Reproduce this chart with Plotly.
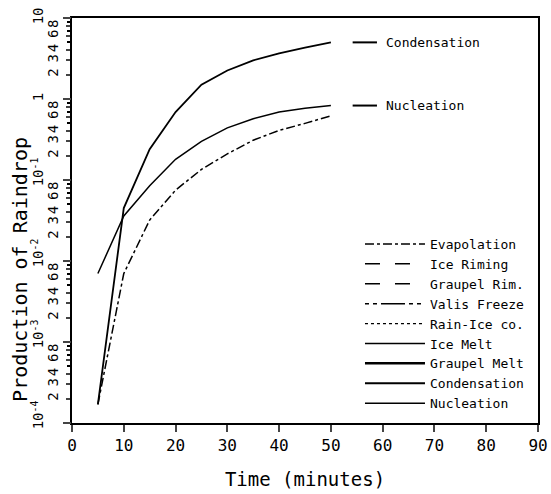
import math
import plotly.graph_objects as go

# ---- data ----
time = [5, 10, 15, 20, 25, 30, 35, 40, 45, 50]
condensation = [1.7e-4, 0.045, 0.24, 0.69, 1.5, 2.25, 3.0, 3.65, 4.3, 5.0]
nucleation = [0.007, 0.036, 0.085, 0.18, 0.30, 0.44, 0.57, 0.69, 0.77, 0.83]
evapolation = [1.7e-4, 0.007, 0.032, 0.075, 0.135, 0.21, 0.31, 0.41, 0.50, 0.62]

series_names = ["Evapolation", "Ice Riming", "Graupel Rim.", "Valis Freeze",
                "Rain-Ice co.", "Ice Melt", "Graupel Melt", "Condensation", "Nucleation"]

decade_vals = [1e-4, 1e-3, 1e-2, 1e-1, 1, 10]
decade_text = ["10<sup>-4</sup>", "10<sup>-3</sup>", "10<sup>-2</sup>", "10<sup>-1</sup>", "1", "10"]
minor_digits = [2, 3, 4, 6, 8]
x_ticks = [0, 10, 20, 30, 40, 50, 60, 70, 80, 90]

FONT = "DejaVu Sans Mono"

series = {
    "Evapolation": (evapolation, dict(dash="dashdot", width=1.5)),
    "Ice Riming": (None, dict(dash="longdash", width=1.5)),
    "Graupel Rim.": (None, dict(dash="longdash", width=1.5)),
    "Valis Freeze": (None, dict(dash="4px,4px,4px,4px,24px,4px", width=1.5)),
    "Rain-Ice co.": (None, dict(dash="dot", width=1.2)),
    "Ice Melt": (None, dict(dash="solid", width=1.5)),
    "Graupel Melt": (None, dict(dash="solid", width=2.5)),
    "Condensation": (condensation, dict(dash="solid", width=1.8)),
    "Nucleation": (nucleation, dict(dash="solid", width=1.5)),
}

fig = go.Figure()
for name in series_names:
    vals, ls = series[name]
    fig.add_trace(go.Scatter(
        x=time if vals is not None else [None],
        y=vals if vals is not None else [None],
        mode="lines", name=name,
        line=dict(color="black", **ls),
        yaxis="y2" if name == "Ice Riming" else "y",
    ))

# minor-digit labels (close to axis)
minor_vals, minor_text = [], []
for e in range(-4, 1):
    for d in minor_digits:
        minor_vals.append(d * 10 ** e)
        minor_text.append(str(d))

# decade labels: pad so the "10" base sits on the tick, exponent above it
decade_labels = []
for t in decade_text:
    if "<sup>" in t:
        decade_labels.append("<sup>&nbsp;&nbsp;</sup>" + t)
    else:
        decade_labels.append(t)

axis_common = dict(type="log", range=[-4, 1], tickangle=-90, automargin=False,
                   tickfont=dict(family=FONT, size=14, color="black"),
                   showgrid=False, zeroline=False)

fig.update_layout(
    width=551, height=494,
    margin=dict(l=72, r=13, t=18, b=71),
    paper_bgcolor="white", plot_bgcolor="white",
    showlegend=True,
    legend=dict(x=0.618, y=0.479, xanchor="left", yanchor="top",
                font=dict(family=FONT, size=13, color="black"),
                bgcolor="rgba(0,0,0,0)", itemwidth=60, tracegroupgap=0),
    xaxis=dict(range=[0, 90], tickvals=x_ticks, ticks="outside", ticklen=7, tickwidth=2,
               showline=True, linewidth=2, linecolor="black", mirror=True,
               showgrid=False, zeroline=False, automargin=False,
               tickfont=dict(family=FONT, size=16, color="black"),
               title=dict(text="Time (minutes)", font=dict(family=FONT, size=19, color="black"),
                          standoff=18)),
    yaxis=dict(**axis_common, tickvals=minor_vals, ticktext=minor_text,
               ticks="outside", ticklen=4, tickwidth=1.5,
               showline=True, linewidth=2, linecolor="black", mirror=True,
               minor=dict(ticks="outside", ticklen=3, dtick="D1", tickcolor="black"),
               ticklabelstandoff=2),
    yaxis2=dict(**axis_common, overlaying="y", side="left", anchor="x",
                tickvals=decade_vals, ticktext=decade_labels,
                ticks="outside", ticklen=8, tickwidth=1.5, showline=False,
                ticklabelstandoff=14),
)

fig.add_annotation(xref="paper", yref="paper", x=-0.112, y=0.38,
                   text="Production of Raindrop", textangle=-90, showarrow=False,
                   font=dict(family=FONT, size=20, color="black"),
                   xanchor="center", yanchor="middle")

# end labels for Condensation and Nucleation
for name, vals in [("Condensation", condensation), ("Nucleation", nucleation)]:
    fig.add_shape(type="line", xref="x", yref="y", x0=54.2, x1=58.9,
                  y0=vals[-1], y1=vals[-1], line=dict(color="black", width=2))
    fig.add_annotation(xref="x", yref="y", x=60.2, y=math.log10(vals[-1]),
                       text=name, showarrow=False, xanchor="left", yanchor="middle",
                       font=dict(family=FONT, size=13, color="black"))

fig.write_html("out.html")
